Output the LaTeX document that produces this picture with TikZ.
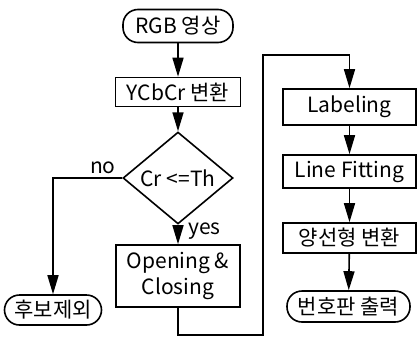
\documentclass[tikz,border=0pt]{standalone}
\usepackage{fontspec}
\setmainfont{Noto Sans CJK KR}
\usetikzlibrary{shapes.geometric,arrows.meta}
\begin{document}
\begin{tikzpicture}[x=1pt, y=-1pt, font=\fontsize{21}{26}\selectfont, line width=1.6pt,
  >={Triangle[length=19pt,width=11pt]},
  proc/.style={draw, rectangle, inner sep=0pt, minimum width=#1},
  term/.style={draw, rectangle, rounded corners=15pt, inner sep=0pt, minimum width=#1},
  test/.style={draw, diamond, inner sep=0pt, minimum width=110pt, minimum height=60pt}]
\useasboundingbox (0,0) rectangle (417,343);
% left column
\node[term=110pt, minimum height=33pt] (rgb) at (178,26) {RGB 영상};
\node[proc=125pt, minimum height=29pt] (ycc) at (178,92) {YCbCr 변환};
\node[test] (cr) at (178,178) {Cr <=Th};
\node[proc=124pt, minimum height=62pt, align=center] (open) at (178,276) {Opening \&\\Closing};
\node[term=97pt, minimum height=30pt] (rej) at (53,310) {후보제외};
% right column
\foreach \nm/\Y/\H/\txt in {lab/107/36/Labeling, fit/171.5/33/Line Fitting, bil/238/30/양선형 변환}
  \node[proc=133pt, minimum height=\H pt] (\nm) at (349.5,\Y) {\txt};
\node[term=123pt, minimum height=31pt] (out) at (348.5,306.5) {번호판 출력};
\coordinate (low) at (263,335);
\coordinate (high) at (263,55);
\foreach \a/\b in {rgb/ycc, ycc/cr, lab/fit, fit/bil, bil/out}
  \draw[->] (\a) -- (\b);
\draw[->] (cr) -- node[pos=0.35, right=6pt] {yes} (open);
\draw[->] (cr.west) -| node[pos=0.14, above] {no} (rej);
\draw[->] (open) |- (low) -- (high) -| (lab);
\end{tikzpicture}
\end{document}
